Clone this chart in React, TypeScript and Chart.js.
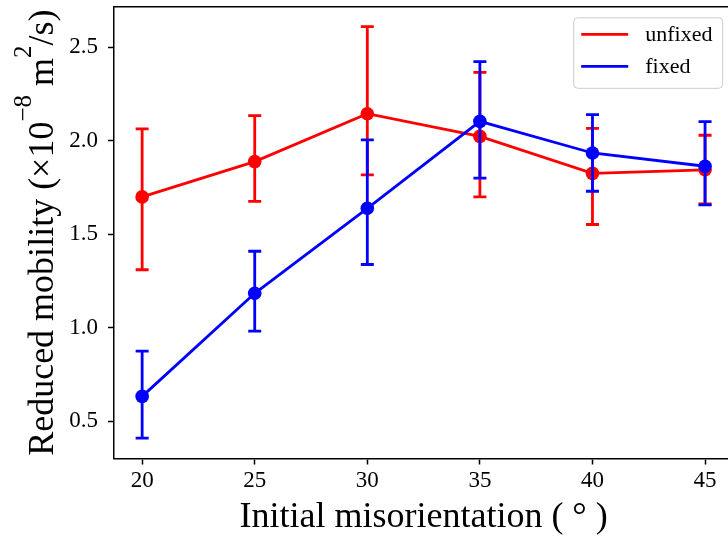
import React, { useEffect, useRef } from "react";
import { Chart, registerables } from "chart.js";

Chart.register(...registerables);

// ---- data ----
const xValues = [20, 25, 30, 35, 40, 45];

const unfixedMean = [1.7, 1.889, 2.145, 2.024, 1.826, 1.845];
const unfixedLower = [1.31, 1.676, 1.818, 1.7, 1.552, 1.662];
const unfixedUpper = [2.064, 2.135, 2.611, 2.366, 2.067, 2.03];

const fixedMean = [0.632, 1.184, 1.639, 2.104, 1.935, 1.864];
const fixedLower = [0.409, 0.981, 1.338, 1.8, 1.73, 1.657];
const fixedUpper = [0.874, 1.409, 2.005, 2.424, 2.14, 2.103];

const xTicks = [20, 25, 30, 35, 40, 45];
const yTicks = [0.5, 1.0, 1.5, 2.0, 2.5];

const seriesLabels = ["unfixed", "fixed"];
const seriesColors = ["#ff0000", "#0000ff"];

const xTitle = "Initial misorientation ( ° )";
const yTitleParts = [
  { text: "Reduced mobility (×10", sup: false },
  { text: "−8", sup: true },
  { text: " m", sup: false },
  { text: "2", sup: true },
  { text: "/s)", sup: false },
];

const FONT = '"Liberation Serif", "Times New Roman", serif';

const errorBarPlugin = {
  id: "errorBars",
  beforeDatasetDraw(chart: any, args: any) {
    const ds: any = chart.data.datasets[args.index];
    if (!ds.errLower) return;
    const xs = chart.scales.x;
    const ys = chart.scales.y;
    const ctx = chart.ctx;
    ctx.save();
    ctx.strokeStyle = ds.borderColor;
    ctx.lineWidth = 2.8;
    ctx.lineCap = "butt";
    ds.data.forEach((p: any, i: number) => {
      const px = xs.getPixelForValue(p.x);
      const lo = ys.getPixelForValue(ds.errLower[i]);
      const hi = ys.getPixelForValue(ds.errUpper[i]);
      ctx.beginPath();
      ctx.moveTo(px, lo);
      ctx.lineTo(px, hi);
      ctx.moveTo(px - 6.5, lo);
      ctx.lineTo(px + 6.5, lo);
      ctx.moveTo(px - 6.5, hi);
      ctx.lineTo(px + 6.5, hi);
      ctx.stroke();
    });
    ctx.restore();
  },
};

const decorPlugin = {
  id: "decor",
  afterDraw(chart: any) {
    const ctx = chart.ctx;
    const ca = chart.chartArea;
    // top spine
    ctx.save();
    ctx.strokeStyle = "#000";
    ctx.lineWidth = 1.5;
    ctx.beginPath();
    ctx.moveTo(ca.left - 0.75, ca.top);
    ctx.lineTo(ca.right, ca.top);
    ctx.stroke();
    ctx.restore();

    // y axis title with superscripts
    ctx.save();
    const big = 36;
    const small = 25;
    const raise = 22;
    let total = 0;
    yTitleParts.forEach((p) => {
      ctx.font = `${p.sup ? small : big}px ${FONT}`;
      total += ctx.measureText(p.text).width;
    });
    const cy = (ca.top + ca.bottom) / 2;
    ctx.translate(53, cy);
    ctx.rotate(-Math.PI / 2);
    ctx.fillStyle = "#000";
    ctx.textBaseline = "alphabetic";
    ctx.textAlign = "left";
    let x = -total / 2;
    yTitleParts.forEach((p) => {
      ctx.font = `${p.sup ? small : big}px ${FONT}`;
      ctx.fillText(p.text, x, p.sup ? -raise : 0);
      x += ctx.measureText(p.text).width;
    });
    ctx.restore();

    // legend
    ctx.save();
    const boxR = ca.right - 11;
    const boxL = boxR - 149;
    const boxT = ca.top + 10.5;
    const boxB = boxT + 70.5;
    ctx.fillStyle = "rgba(255,255,255,0.8)";
    ctx.strokeStyle = "#cccccc";
    ctx.lineWidth = 1;
    ctx.beginPath();
    (ctx as any).roundRect(boxL + 0.5, boxT + 0.5, boxR - boxL, boxB - boxT, 4);
    ctx.fill();
    ctx.stroke();
    ctx.font = `22px ${FONT}`;
    ctx.textBaseline = "middle";
    ctx.textAlign = "left";
    chart.data.datasets.forEach((ds: any, i: number) => {
      const ly = boxT + 17 + i * 32;
      ctx.strokeStyle = ds.borderColor;
      ctx.lineWidth = 2.8;
      ctx.beginPath();
      ctx.moveTo(boxL + 8, ly);
      ctx.lineTo(boxL + 55, ly);
      ctx.stroke();
      ctx.fillStyle = "#000";
      ctx.fillText(ds.label, boxL + 72, ly + 1);
    });
    ctx.restore();
  },
};

function makeDataset(i: number, mean: number[], lower: number[], upper: number[]) {
  return {
    label: seriesLabels[i],
    data: xValues.map((x, k) => ({ x, y: mean[k] })),
    borderColor: seriesColors[i],
    backgroundColor: seriesColors[i],
    pointBackgroundColor: seriesColors[i],
    pointBorderColor: seriesColors[i],
    borderWidth: 2.8,
    pointRadius: 6.8,
    pointBorderWidth: 0,
    pointHoverRadius: 6.8,
    tension: 0,
    fill: false,
    order: i === 0 ? 2 : 1,
    errLower: lower,
    errUpper: upper,
  } as any;
}

export default function App() {
  const ref = useRef<HTMLCanvasElement>(null);
  useEffect(() => {
    const canvas = ref.current!;
    const tickFont = { family: FONT, size: 23 };
    const chart = new Chart(canvas, {
      type: "line",
      data: {
        datasets: [
          makeDataset(0, unfixedMean, unfixedLower, unfixedUpper),
          makeDataset(1, fixedMean, fixedLower, fixedUpper),
        ],
      },
      options: {
        animation: false,
        responsive: false,
        devicePixelRatio: 1,
        layout: { padding: { left: 0, right: 4, top: 6, bottom: 0 } },
        plugins: { legend: { display: false }, tooltip: { enabled: false } },
        scales: {
          x: {
            type: "linear",
            min: 18.75,
            max: 46.25,
            afterBuildTicks: (s: any) => {
              s.ticks = xTicks.map((v) => ({ value: v }));
            },
            afterFit: (s: any) => {
              s.height = 80.5;
              s.paddingLeft = 0;
              s.paddingRight = 0;
            },
            ticks: {
              font: tickFont,
              color: "#000",
              padding: 3,
              autoSkip: false,
              maxRotation: 0,
              callback: (v: any) => String(v),
            },
            grid: {
              display: true,
              drawOnChartArea: false,
              drawTicks: true,
              tickLength: 6,
              tickWidth: 1.5,
              tickColor: "#000",
            },
            border: { display: true, color: "#000", width: 1.5 },
            title: {
              display: true,
              text: xTitle,
              font: { family: FONT, size: 36 },
              color: "#000",
              padding: { top: 0, bottom: 0 },
            },
          },
          y: {
            type: "linear",
            min: 0.2995,
            max: 2.7175,
            afterBuildTicks: (s: any) => {
              s.ticks = yTicks.map((v) => ({ value: v }));
            },
            afterFit: (s: any) => {
              s.width = 114;
              s.paddingTop = 0;
              s.paddingBottom = 0;
            },
            ticks: {
              font: tickFont,
              color: "#000",
              padding: 10,
              autoSkip: false,
              callback: (v: any) => Number(v).toFixed(1),
            },
            grid: {
              display: true,
              drawOnChartArea: false,
              drawTicks: true,
              tickLength: 6,
              tickWidth: 1.5,
              tickColor: "#000",
            },
            border: { display: true, color: "#000", width: 1.5 },
          },
        },
      } as any,
      plugins: [errorBarPlugin, decorPlugin],
    });
    return () => chart.destroy();
  }, []);

  return (
    <div
      style={{
        position: "absolute",
        left: 0,
        top: 0,
        width: 728,
        height: 539,
        overflow: "hidden",
        background: "#fff",
      }}
    >
      <canvas ref={ref} width={740} height={539} style={{ width: 740, height: 539, display: "block" }} />
    </div>
  );
}
